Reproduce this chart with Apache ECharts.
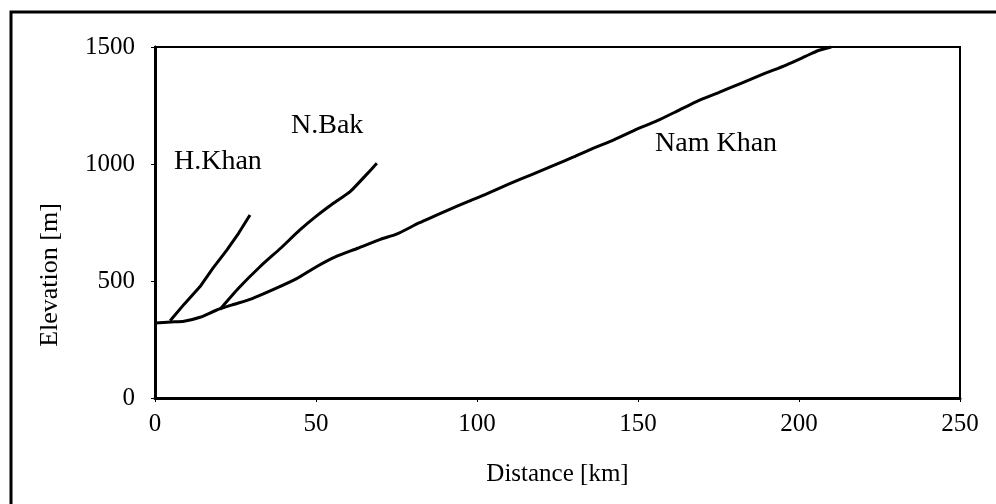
<!DOCTYPE html>
<html>
<head>
<meta charset="utf-8">
<script src="https://cdn.jsdelivr.net/npm/echarts@6/dist/echarts.min.js"></script>
<style>
html,body{margin:0;padding:0;background:#fff;}
#chart{width:996px;height:504px;}
</style>
</head>
<body>
<div id="chart"></div>
<script>
// Data (distance km, elevation m)
const namKhanX = [0, 5, 9, 14, 19, 24, 30, 37, 44, 50, 56, 63, 70, 75, 82, 91, 97, 103, 110, 117, 124, 130, 136, 142, 149, 156, 162, 168, 175, 182, 189, 196, 202, 206, 210];
const namKhanY = [320, 325, 328, 345, 375, 398, 424, 465, 510, 560, 603, 640, 678, 700, 748, 803, 838, 872, 915, 955, 995, 1030, 1067, 1100, 1145, 1185, 1225, 1266, 1305, 1345, 1385, 1423, 1460, 1485, 1500];
const hKhanX = [4.7, 9, 14, 18, 22.3, 26, 29.5];
const hKhanY = [330, 400, 476, 555, 632, 705, 782];
const nBakX = [20.2, 26, 32.6, 39, 45, 50, 55.4, 60.6, 65, 68.9];
const nBakY = [379, 470, 561, 640, 718, 776, 832, 882, 945, 1003];
const xTicks = [0, 50, 100, 150, 200, 250];
const yTicks = [0, 500, 1000, 1500];
const riverNames = ['Nam Khan', 'H.Khan', 'N.Bak'];
const xTitle = 'Distance [km]';
const yTitle = 'Elevation [m]';

function pairs(xs, ys){ return xs.map((x,i)=>[x, ys[i]]); }

const chart = echarts.init(document.getElementById('chart'), null, {renderer:'canvas'});
const font = '"Liberation Serif", "Times New Roman", serif';
const lineStyle = {color:'#000', width:3};
const option = {
  animation:false,
  backgroundColor:'#fff',
  grid:{left:155, right:36, top:47, bottom:106, show:true, borderColor:'#000', borderWidth:2, backgroundColor:'transparent'},
  xAxis:{
    type:'value', min:xTicks[0], max:xTicks[xTicks.length-1], interval:50,
    name:xTitle, nameLocation:'middle', nameGap:64,
    nameTextStyle:{fontFamily:font, fontSize:25, color:'#000'},
    axisLine:{show:true, lineStyle:{color:'#000', width:3}},
    axisTick:{show:true, length:4, lineStyle:{color:'#000', width:1}},
    axisLabel:{fontFamily:font, fontSize:25, color:'#000', margin:14, formatter:v=>String(v)},
    splitLine:{show:false}
  },
  yAxis:{
    type:'value', min:yTicks[0], max:yTicks[yTicks.length-1], interval:500,
    axisLine:{show:true, lineStyle:{color:'#000', width:3}},
    axisTick:{show:true, length:4, lineStyle:{color:'#000', width:1}},
    axisLabel:{fontFamily:font, fontSize:25, color:'#000', margin:20, formatter:v=>String(v)},
    splitLine:{show:false}
  },
  series:[
    {name:riverNames[0], type:'line', data:pairs(namKhanX, namKhanY), showSymbol:false, symbol:'none', lineStyle:lineStyle, smooth:0.2},
    {name:riverNames[1], type:'line', data:pairs(hKhanX, hKhanY), showSymbol:false, symbol:'none', lineStyle:lineStyle},
    {name:riverNames[2], type:'line', data:pairs(nBakX, nBakY), showSymbol:false, symbol:'none', lineStyle:lineStyle, smooth:0.2}
  ],
  graphic:[
    {type:'polyline', shape:{points:[[11,504],[11,12],[996,12]]}, style:{stroke:'#000', lineWidth:3, fill:null}, silent:true},
    {type:'text', x:50, y:275, rotation:Math.PI/2, style:{text:yTitle, font:'26px ' + font, fill:'#000', align:'center', verticalAlign:'middle'}},
    {type:'text', left:174, top:148, style:{text:riverNames[1], font:'28px ' + font, fill:'#000'}},
    {type:'text', left:291, top:112, style:{text:riverNames[2], font:'28px ' + font, fill:'#000'}},
    {type:'text', left:655, top:130, style:{text:riverNames[0], font:'28px ' + font, fill:'#000'}}
  ]
};
chart.setOption(option);
</script>
</body>
</html>
